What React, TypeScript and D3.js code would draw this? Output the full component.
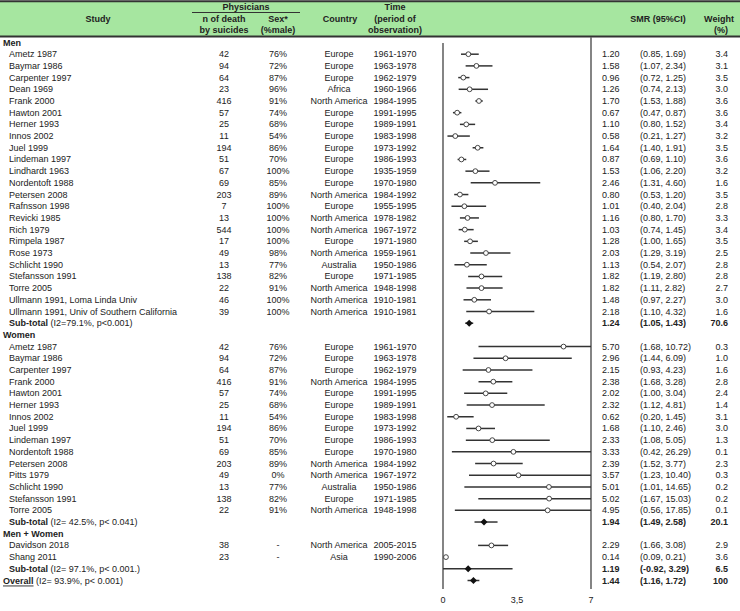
import React from 'react';
import * as d3 from 'd3';

// [study, deaths, %male, country, period, SMR, lower, upper, weight]
type Row = [string, number, string, string, string, number, number, number, number];

const menStudies: Row[] = [
  ['Ametz 1987', 42, '76%', 'Europe', '1961-1970', 1.2, 0.85, 1.69, 3.4],
  ['Baymar 1986', 94, '72%', 'Europe', '1963-1978', 1.58, 1.07, 2.34, 3.1],
  ['Carpenter 1997', 64, '87%', 'Europe', '1962-1979', 0.96, 0.72, 1.25, 3.5],
  ['Dean 1969', 23, '96%', 'Africa', '1960-1966', 1.26, 0.74, 2.13, 3.0],
  ['Frank 2000', 416, '91%', 'North America', '1984-1995', 1.7, 1.53, 1.88, 3.6],
  ['Hawton 2001', 57, '74%', 'Europe', '1991-1995', 0.67, 0.47, 0.87, 3.6],
  ['Herner 1993', 25, '68%', 'Europe', '1989-1991', 1.1, 0.8, 1.52, 3.4],
  ['Innos 2002', 11, '54%', 'Europe', '1983-1998', 0.58, 0.21, 1.27, 3.2],
  ['Juel 1999', 194, '86%', 'Europe', '1973-1992', 1.64, 1.4, 1.91, 3.5],
  ['Lindeman 1997', 51, '70%', 'Europe', '1986-1993', 0.87, 0.69, 1.1, 3.6],
  ['Lindhardt 1963', 67, '100%', 'Europe', '1935-1959', 1.53, 1.06, 2.2, 3.2],
  ['Nordentoft 1988', 69, '85%', 'Europe', '1970-1980', 2.46, 1.31, 4.6, 1.6],
  ['Petersen 2008', 203, '89%', 'North America', '1984-1992', 0.8, 0.53, 1.2, 3.5],
  ['Rafnsson 1998', 7, '100%', 'Europe', '1955-1995', 1.01, 0.4, 2.04, 2.8],
  ['Revicki 1985', 13, '100%', 'North America', '1978-1982', 1.16, 0.8, 1.7, 3.3],
  ['Rich 1979', 544, '100%', 'North America', '1967-1972', 1.03, 0.74, 1.45, 3.4],
  ['Rimpela 1987', 17, '100%', 'Europe', '1971-1980', 1.28, 1.0, 1.65, 3.5],
  ['Rose 1973', 49, '98%', 'North America', '1959-1961', 2.03, 1.29, 3.19, 2.5],
  ['Schlicht 1990', 13, '77%', 'Australia', '1950-1986', 1.13, 0.54, 2.07, 2.8],
  ['Stefansson 1991', 138, '82%', 'Europe', '1971-1985', 1.82, 1.19, 2.8, 2.8],
  ['Torre 2005', 22, '91%', 'North America', '1948-1998', 1.82, 1.11, 2.82, 2.7],
  ['Ullmann 1991, Loma Linda Univ', 46, '100%', 'North America', '1910-1981', 1.48, 0.97, 2.27, 3.0],
  ['Ullmann 1991, Univ of Southern California', 39, '100%', 'North America', '1910-1981', 2.18, 1.1, 4.32, 1.6],
];

const womenStudies: Row[] = [
  ['Ametz 1987', 42, '76%', 'Europe', '1961-1970', 5.7, 1.68, 10.72, 0.3],
  ['Baymar 1986', 94, '72%', 'Europe', '1963-1978', 2.96, 1.44, 6.09, 1.0],
  ['Carpenter 1997', 64, '87%', 'Europe', '1962-1979', 2.15, 0.93, 4.23, 1.6],
  ['Frank 2000', 416, '91%', 'North America', '1984-1995', 2.38, 1.68, 3.28, 2.8],
  ['Hawton 2001', 57, '74%', 'Europe', '1991-1995', 2.02, 1.0, 3.04, 2.4],
  ['Herner 1993', 25, '68%', 'Europe', '1989-1991', 2.32, 1.12, 4.81, 1.4],
  ['Innos 2002', 11, '54%', 'Europe', '1983-1998', 0.62, 0.2, 1.45, 3.1],
  ['Juel 1999', 194, '86%', 'Europe', '1973-1992', 1.68, 1.1, 2.46, 3.0],
  ['Lindeman 1997', 51, '70%', 'Europe', '1986-1993', 2.33, 1.08, 5.05, 1.3],
  ['Nordentoft 1988', 69, '85%', 'Europe', '1970-1980', 3.33, 0.42, 26.29, 0.1],
  ['Petersen 2008', 203, '89%', 'North America', '1984-1992', 2.39, 1.52, 3.77, 2.3],
  ['Pitts 1979', 49, '0%', 'North America', '1967-1972', 3.57, 1.23, 10.4, 0.3],
  ['Schlicht 1990', 13, '77%', 'Australia', '1950-1986', 5.01, 1.01, 14.65, 0.2],
  ['Stefansson 1991', 138, '82%', 'Europe', '1971-1985', 5.02, 1.67, 15.03, 0.2],
  ['Torre 2005', 22, '91%', 'North America', '1948-1998', 4.95, 0.56, 17.85, 0.1],
];

const bothStudies: Row[] = [
  ['Davidson 2018', 38, '-', 'North America', '2005-2015', 2.29, 1.66, 3.08, 2.9],
  ['Shang 2011', 23, '-', 'Asia', '1990-2006', 0.14, 0.09, 0.21, 3.6],
];

const groupNames = ['Men', 'Women', 'Men + Women'];
const subtotalStats = ['(I2=79.1%, p<0.001)', '(I2= 42.5%, p< 0.041)', '(I2= 97.1%, p< 0.001.)'];
const subtotalSMR = [1.24, 1.94, 1.19];
const subtotalLo = [1.05, 1.49, -0.92];
const subtotalHi = [1.43, 2.58, 3.29];
const subtotalWeight = [70.6, 20.1, 6.5];

const overallStats = '(I2= 93.9%, p< 0.001)';
const overallSMR = 1.44;
const overallLo = 1.16;
const overallHi = 1.72;
const overallWeight = 100;

const xTicks = [0, 3.5, 7];
const xTickLabels = ['0', '3,5', '7'];

type Item =
  | { kind: 'group'; label: string }
  | { kind: 'study'; row: Row }
  | { kind: 'sub'; label: string; stats: string; smr: number; lo: number; hi: number; w: number };

const W = 740;
const H = 611;
const FONT = '"Liberation Sans", Arial, sans-serif';
const FS = 9;
const TXT = '#222';

function fmtW(w: number) {
  return w === 100 ? '100' : w.toFixed(1);
}

export default function App() {
  const items: Item[] = [];
  [menStudies, womenStudies, bothStudies].forEach((rows, g) => {
    items.push({ kind: 'group', label: groupNames[g] });
    rows.forEach((r) => items.push({ kind: 'study', row: r }));
    items.push({
      kind: 'sub', label: 'Sub-total', stats: subtotalStats[g], smr: subtotalSMR[g],
      lo: subtotalLo[g], hi: subtotalHi[g], w: subtotalWeight[g],
    });
  });
  items.push({ kind: 'sub', label: 'Overall', stats: overallStats, smr: overallSMR, lo: overallLo, hi: overallHi, w: overallWeight });

  const x = d3.scaleLinear().domain([0, 7]).range([443, 591]).clamp(true);
  const y = d3.scaleLinear().domain([0, items.length - 1]).range([42.5, 580.5]);

  const diamond = (cx: number, cy: number) => {
    const p = d3.path();
    p.moveTo(cx - 3.5, cy);
    p.lineTo(cx, cy - 3.5);
    p.lineTo(cx + 3.5, cy);
    p.lineTo(cx, cy + 3.5);
    p.closePath();
    return p.toString();
  };

  const textProps = { fontFamily: FONT, fontSize: FS, fill: TXT, dominantBaseline: 'central' as const };

  return (
    <svg width={W} height={H} style={{ position: 'absolute', left: 0, top: 0, background: '#fff' }}>
      {/* header band */}
      <rect x={0} y={2} width={W} height={34} fill="#a6e6a0" />
      <line x1={0} x2={W} y1={1.2} y2={1.2} stroke="#333" strokeWidth={2} />
      <line x1={0} x2={W} y1={36.5} y2={36.5} stroke="#333" strokeWidth={2} />
      <line x1={192} x2={300} y1={12.5} y2={12.5} stroke="#333" strokeWidth={1} />
      <g {...textProps} fontWeight="bold" textAnchor="middle">
        <text x={98} y={19}>Study</text>
        <text x={246} y={7}>Physicians</text>
        <text x={224} y={19}>n of death</text>
        <text x={224} y={30}>by suicides</text>
        <text x={278} y={19}>Sex*</text>
        <text x={278} y={30}>(%male)</text>
        <text x={340} y={19}>Country</text>
        <text x={395} y={7}>Time</text>
        <text x={395} y={19}>(period of</text>
        <text x={395} y={30}>observation)</text>
        <text x={658} y={19}>SMR (95%CI)</text>
        <text x={719} y={19}>Weight</text>
        <text x={721} y={30}>(%)</text>
      </g>

      {/* axis lines */}
      <line x1={x(0)} x2={x(0)} y1={43} y2={589} stroke="#666" strokeWidth={1.6} />
      <line x1={x(7)} x2={x(7)} y1={37} y2={589} stroke="#666" strokeWidth={1.6} />
      {xTicks.map((t, i) => (
        <text key={i} x={x(t)} y={600} textAnchor="middle" {...textProps}>{xTickLabels[i]}</text>
      ))}

      {items.map((it, i) => {
        const cy = y(i);
        if (it.kind === 'group') {
          return (
            <text key={i} x={3} y={cy} {...textProps} fontWeight="bold">{it.label}</text>
          );
        }
        if (it.kind === 'study') {
          const [name, n, sex, country, period, smr, lo, hi, w] = it.row;
          return (
            <g key={i}>
              <text x={9} y={cy} {...textProps}>{name}</text>
              <text x={224} y={cy} {...textProps} textAnchor="middle">{n}</text>
              <text x={278} y={cy} {...textProps} textAnchor="middle">{sex}</text>
              <text x={339} y={cy} {...textProps} textAnchor="middle">{country}</text>
              <text x={395} y={cy} {...textProps} textAnchor="middle">{period}</text>
              <line x1={x(lo)} x2={x(hi)} y1={cy} y2={cy} stroke="#333" strokeWidth={1.5} />
              <circle cx={x(smr)} cy={cy} r={2.4} fill="#fff" stroke="#333" strokeWidth={0.9} />
              <text x={602} y={cy} {...textProps}>{smr.toFixed(2)}</text>
              <text x={640} y={cy} {...textProps}>{`(${lo.toFixed(2)}, ${hi.toFixed(2)})`}</text>
              <text x={728} y={cy} {...textProps} textAnchor="end">{fmtW(w)}</text>
            </g>
          );
        }
        const isOverall = it.label === 'Overall';
        return (
          <g key={i}>
            <text x={isOverall ? 3 : 9} y={cy} {...textProps}>
              <tspan fontWeight="bold" textDecoration={isOverall ? 'underline' : undefined}>{it.label}</tspan>
              <tspan>{' ' + it.stats}</tspan>
            </text>
            <line x1={x(it.lo)} x2={x(it.hi)} y1={cy} y2={cy} stroke="#333" strokeWidth={1.5} />
            <path d={diamond(x(it.smr), cy)} fill="#111" />
            <g fontWeight="bold">
              <text x={602} y={cy} {...textProps}>{it.smr.toFixed(2)}</text>
              <text x={640} y={cy} {...textProps}>{`(${it.lo.toFixed(2)}, ${it.hi.toFixed(2)})`}</text>
              <text x={728} y={cy} {...textProps} textAnchor="end">{fmtW(it.w)}</text>
            </g>
          </g>
        );
      })}
    </svg>
  );
}
